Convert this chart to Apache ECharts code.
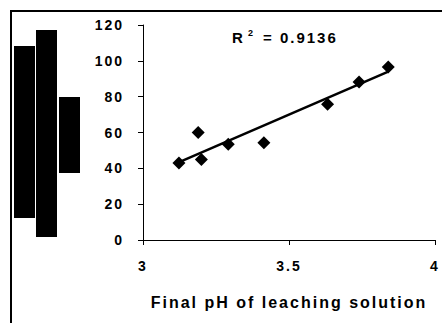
<!DOCTYPE html>
<html>
<head>
<meta charset="utf-8">
<script src="https://cdn.jsdelivr.net/npm/echarts@6/dist/echarts.min.js"></script>
<style>
  html, body { margin: 0; padding: 0; background: #fff; }
  #chart { width: 442px; height: 323px; }
  #chart text { letter-spacing: 2px; }
</style>
</head>
<body>
<div id="chart"></div>
<script>
// final pH vs extraction
const phValues = [3.123, 3.189, 3.2, 3.292, 3.414, 3.632, 3.74, 3.84]
const extraction = [43, 60, 45, 53.4, 54.3, 75.7, 88.2, 96.6]
const trendX = [3.12, 3.84]
const trendY = [43.2, 94]
const xTicks = [3, 3.5, 4]
const yTicks = [0, 20, 40, 60, 80, 100, 120]
const rSquared = '0.9136'

const points = phValues.map((x, i) => [x, extraction[i]])
const trend = trendX.map((x, i) => [x, trendY[i]])

const font = '"Liberation Sans", Arial, sans-serif'
const boldText = size => ({ fontFamily: font, fontWeight: 'bold', fontSize: size, fill: '#000' })

const chart = echarts.init(document.getElementById('chart'), null, { renderer: 'svg' })
chart.setOption({
  animation: false,
  backgroundColor: '#fff',
  grid: {
    left: 143,
    top: 25,
    right: 7,
    bottom: 83,
  },
  xAxis: {
    type: 'value',
    min: xTicks[0],
    max: xTicks[xTicks.length - 1],
    interval: 0.5,
    name: 'Final pH of leaching solution',
    nameLocation: 'middle',
    nameGap: 54,
    nameTextStyle: {
      color: '#000',
      fontFamily: font,
      fontWeight: 'bold',
      fontSize: 16,
    },
    axisLine: { lineStyle: { color: '#000', width: 1 } },
    axisTick: { show: true, inside: false, length: 5, lineStyle: { color: '#000' } },
    splitLine: { show: false },
    axisLabel: {
      margin: 19,
      color: '#000',
      fontFamily: font,
      fontWeight: 'bold',
      fontSize: 14,
      formatter: v => String(v),
    },
  },
  yAxis: {
    type: 'value',
    min: yTicks[0],
    max: yTicks[yTicks.length - 1],
    interval: 20,
    axisLine: { show: true, lineStyle: { color: '#000', width: 1 } },
    axisTick: { show: true, inside: false, length: 5, lineStyle: { color: '#000' } },
    splitLine: { show: false },
    axisLabel: {
      margin: 19,
      color: '#000',
      fontFamily: font,
      fontWeight: 'bold',
      fontSize: 14,
    },
  },
  graphic: [
    // outer frame, only top and left edges fall inside the picture
    {
      type: 'rect',
      shape: { x: 11, y: 11, width: 440, height: 320 },
      style: { fill: 'none', stroke: '#000', lineWidth: 2 },
      silent: true,
    },
    // the blacked-out y axis title
    { type: 'rect', shape: { x: 14, y: 46, width: 21, height: 172 }, style: { fill: '#000' } },
    { type: 'rect', shape: { x: 36, y: 30, width: 21, height: 207 }, style: { fill: '#000' } },
    { type: 'rect', shape: { x: 59, y: 97, width: 21, height: 76 }, style: { fill: '#000' } },
    // R² label
    { type: 'text', left: 232, top: 30, style: Object.assign({ text: 'R' }, boldText(15)) },
    { type: 'text', left: 248, top: 28, style: Object.assign({ text: '2' }, boldText(9)) },
    { type: 'text', left: 263, top: 30, style: Object.assign({ text: '= ' + rSquared }, boldText(15)) },
  ],
  series: [
    {
      type: 'line',
      data: trend,
      symbol: 'none',
      lineStyle: { color: '#000', width: 2.5 },
      z: 2,
    },
    {
      type: 'scatter',
      data: points,
      symbol: 'diamond',
      symbolSize: 13,
      itemStyle: { color: '#000', opacity: 1 },
      z: 3,
    },
  ],
})
</script>
</body>
</html>
